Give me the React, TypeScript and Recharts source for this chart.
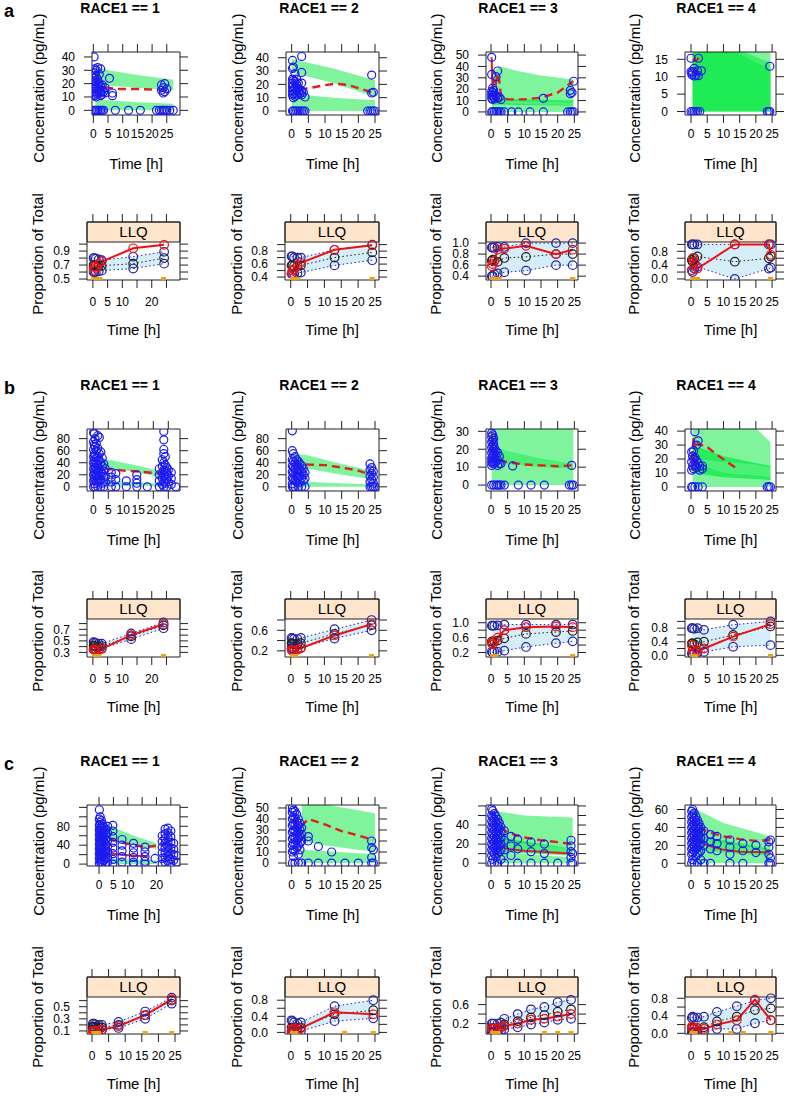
import React from "react";
import { ComposedChart, XAxis, YAxis, Scatter, Line, Area, ReferenceArea } from "recharts";

type Pt = [number, number];
type Bd = [number, number, number];
type Col = [number, number[]];

// ---------- concentration panels: observations [time, concentrations...] ----------
const a1Obs: Col[] = [
  [0.25, [40, 28, 24, 20, 16, 12, 0]], [0.5, [31, 26, 22, 18, 14, 11, 0]], [1, [30, 25, 21, 17, 13, 10, 0]],
  [1.5, [32, 23, 19, 15, 12, 0]], [2, [27, 20, 16, 13, 0]], [2.5, [31, 18, 14, 11, 0]], [3, [19, 15, 12, 0]],
  [3.5, [14, 0]], [4, [17, 13]], [5.5, [24]], [6.5, [13, 11]], [7.5, [0]], [12, [0]], [16, [0]],
  [21.5, [0]], [22.5, [0]], [23.2, [19, 15, 0]], [23.8, [17, 13, 0]], [24.3, [20, 14, 0]], [25, [16, 0]],
  [26, [0]], [27.2, [0]],
];
const a1Dash: Pt[] = [[0.5, 22], [1, 20], [2, 18], [3, 17.5], [5, 17], [8, 16], [15, 16], [22, 15.5], [24, 15], [25.5, 16]];
const a1Up: Bd[] = [[0.7, 20, 32.5], [5, 18.5, 30], [15, 17, 26.5], [27.2, 15, 23]];
const a1Low: Bd[] = [[0.7, 0, 8], [5, 0, 7.5], [15, 0, 6], [27.2, 0, 5]];

const a2Obs: Col[] = [
  [0.25, [38, 32, 24, 21, 18, 15, 12, 0]], [0.5, [33, 23, 19, 16, 13, 10, 0]], [1, [28, 22, 17, 14, 11, 0]],
  [1.5, [24, 20, 15, 12, 0]], [2, [21, 17, 14, 0]], [2.5, [16, 13, 0]], [3, [41, 29, 21, 15, 12, 0]],
  [3.5, [14, 0]], [4, [10.5, 0]], [22.8, [0]], [23.5, [0]], [24, [27, 13.5, 0]], [24.5, [14, 0]], [25, [0]],
];
const a2Dash: Pt[] = [[0.3, 24], [1, 19], [2, 16.5], [5, 17], [9, 19], [13, 20.5], [17, 19.5], [21, 16.5], [25, 13.3]];
const a2Up: Bd[] = [[0, 29, 39], [12.5, 21, 32], [25, 10.5, 23]];
const a2Low: Bd[] = [[0, 0, 13], [12.5, 0, 10], [25, 0, 8]];

const a3Obs: Col[] = [
  [0.2, [48, 33, 18, 15, 12, 0]], [0.5, [21, 17, 14, 11, 0]], [0.8, [19, 13]], [1, [16, 12, 0]],
  [1.5, [31, 14, 0]], [2, [36, 12, 0]], [2.5, [13, 0]], [3, [11, 0]], [4, [0]], [6.2, [0]], [8.2, [0]],
  [11.7, [0]], [15.7, [12, 0]], [23, [0]], [23.8, [19, 16, 0]], [24.3, [17, 0]], [24.8, [27, 0]],
];
const a3Dash: Pt[] = [[0.5, 22], [1, 30], [1.5, 26], [2, 34], [2.5, 27], [3, 14], [5, 11], [10, 11], [15, 12.5], [20, 17], [24.7, 27]];
const a3Solid: Pt[] = [[0.2, 48], [0.35, 30], [0.6, 15], [1, 12], [2, 11], [3, 10]];
const a3Up: Bd[] = [[0.3, 10, 28], [1, 10, 36], [2.7, 10, 40], [8, 9.5, 36], [15, 9, 32], [24.7, 8, 28.5]];
const a3Mid: Bd[] = [[0.3, 6, 14], [3, 6.5, 12], [10, 6, 11], [24.7, 5.5, 10]];
const a3Low: Bd[] = [[0.3, 0, 8], [10, 0, 7], [24.7, 0, 6]];

const a4Obs: Col[] = [
  [0, [15.3, 11.4, 0]], [0.3, [11, 10.5]], [0.5, [11.5, 0]], [1, [12.4, 10.2, 0]], [1.5, [10.4, 0]],
  [2, [11.7, 0]], [2.3, [15.3, 10.3]], [2.7, [0]], [3.2, [11.7]], [23.5, [0]], [24, [0]], [24.3, [13, 0]],
];
const a4Dash: Pt[] = [[0.5, 15], [1.5, 14.5], [2.5, 15.5], [3, 15]];
const a4Solid: Pt[] = [[0.3, 11], [1, 11], [1.5, 12.5], [1.7, 10.5], [2.5, 11]];
const a4BandA: Bd[] = [[0.5, 0, 18], [24.5, 0, 18]];
const a4BandB: Bd[] = [[0.5, 0, 18], [14, 0, 18], [24.5, 0, 14]];
const a4BandC: Bd[] = [[0.5, 0, 18], [12, 0, 18], [24.5, 0, 12]];

const b1Obs: Col[] = [
  [0.1, [90, 75, 62, 50, 40, 30, 20, 10, 0]], [0.3, [88, 70, 55, 45, 35, 25, 15, 5]],
  [0.6, [80, 66, 52, 42, 32, 22, 12, 0]], [1, [72, 60, 48, 38, 28, 18, 8]],
  [1.5, [85, 64, 50, 36, 26, 14, 0]], [2, [82, 55, 44, 30, 20, 10]], [2.5, [58, 40, 24, 12, 0]],
  [3, [48, 34, 22, 6]], [3.5, [38, 26, 16, 0]], [4, [30, 18, 8]], [6, [24, 16, 8, 0]],
  [7.5, [22, 12, 0]], [11, [10, 0]], [14.5, [20, 12, 6, 0]], [18, [0]], [22, [30, 20, 10, 0]],
  [23, [45, 34, 24, 14, 4]], [23.5, [92, 78, 62, 55, 40, 28, 18, 8, 0]], [24, [50, 36, 26, 16, 6]],
  [24.5, [32, 22, 12, 0]], [25, [28, 18, 8]], [26, [24, 14, 4]], [27.5, [0]],
];
const b1Dash: Pt[] = [[0.3, 33], [0.8, 37], [1.5, 36], [3, 31], [6, 29], [10, 27], [15, 25.5], [20, 23], [22.5, 21], [24.5, 24], [26, 26]];
const b1Solid: Pt[] = [[0.2, 12], [1, 14], [2, 13], [3, 12]];
const b1Up: Bd[] = [[2, 31, 46], [6, 30, 44], [14, 25, 36], [21, 17, 28], [24, 15, 25]];
const b1Low: Bd[] = [[4, 3, 10], [12, 2, 8], [20, 1, 6], [24, 0, 5]];

const b2Obs: Col[] = [
  [0.2, [93, 60, 45, 35, 25, 15, 5, 0]], [0.5, [55, 42, 32, 22, 12, 0]], [1, [50, 40, 30, 20, 10, 0]],
  [1.5, [45, 36, 27, 18, 8]], [2, [42, 33, 24, 15, 0]], [2.5, [38, 28, 18, 8]], [3, [35, 25, 15, 0]],
  [3.5, [30, 20, 10]], [4, [24, 14, 0]], [23.5, [38, 28, 18, 8, 0]], [24, [32, 22, 12, 0]],
  [24.5, [26, 16, 6, 0]], [25, [0]],
];
const b2Dash: Pt[] = [[0.5, 35], [2, 38], [5, 37], [10, 36], [15, 32], [20, 27], [24.5, 19]];
const b2Solid: Pt[] = [[0.3, 14], [0.8, 20], [1.5, 24], [2.5, 20], [3.5, 17]];
const b2Up: Bd[] = [[1, 32, 55], [5, 30, 52], [15, 20, 38], [24.5, 12, 26]];
const b2Low: Bd[] = [[1, 0, 10], [10, 0, 7], [24.5, 0, 4]];

const b3Obs: Col[] = [
  [0.2, [29, 27, 24, 21, 18, 15, 13, 11, 0]], [0.5, [28, 25, 22, 19, 16, 14, 12]], [0.8, [26, 23, 20, 17, 13, 0]],
  [1, [21, 18, 15, 12]], [1.5, [19, 16, 13, 0]], [2, [18, 14, 11, 0]], [2.5, [16, 12, 0]], [3, [12, 0]],
  [4, [0]], [6.5, [10.7]], [8.2, [0]], [12, [0]], [16, [0]], [23.5, [0]], [24.2, [11, 0]], [24.7, [0]],
];
const b3Dash: Pt[] = [[0.5, 20], [1, 17], [2, 14.5], [3, 13.5], [6, 12.5], [10, 11.5], [15, 11], [20, 10.5], [24.3, 11]];
const b3Solid: Pt[] = [[0.2, 29], [0.4, 24], [0.6, 18], [0.9, 14], [1.3, 12], [2, 12]];
const b3Up: Bd[] = [[0.2, 21, 33], [5, 19, 33], [15, 15, 33], [24.7, 12, 33]];
const b3Mid: Bd[] = [[0.2, 12.5, 21.5], [5, 11.5, 19], [15, 10, 15], [24.7, 8.8, 12]];
const b3Low: Bd[] = [[0.2, 0, 12.5], [5, 0, 11.5], [15, 0, 10], [24.7, 0, 8.8]];

const b4Obs: Col[] = [
  [0.2, [25, 18, 12, 0]], [0.5, [22, 15, 0]], [0.8, [26, 20, 13]], [1.2, [39.5, 21, 16, 0]],
  [1.7, [30, 19, 14]], [2.2, [33, 17, 0]], [2.7, [15, 12]], [3.5, [13, 15, 0]],
  [23.5, [0]], [24, [0]], [24.5, [0]],
];
const b4Dash: Pt[] = [[0.3, 20], [0.8, 35], [1.2, 28], [1.7, 33], [2.5, 30], [4.3, 29.8], [8, 23], [13.6, 14]];
const b4Solid: Pt[] = [[0.2, 12], [0.5, 20], [0.9, 23], [1.3, 16], [1.8, 19], [2.5, 15], [3.2, 14]];
const b4Up: Bd[] = [[0.5, 20, 42], [10, 18, 42], [20, 16, 42], [24.5, 14, 32]];
const b4Mid: Bd[] = [[0.5, 10, 30], [10, 7, 22], [24.5, 5, 15]];
const b4Low: Bd[] = [[0.5, 0, 18], [10, 0, 10], [24.5, 0, 7]];

const c1Obs: Col[] = [
  [0.1, [115, 95, 82, 72, 62, 52, 42, 32, 22, 12, 2]], [0.4, [100, 88, 76, 66, 56, 46, 36, 26, 16, 6]],
  [0.8, [92, 80, 70, 60, 50, 40, 30, 20, 10, 0]], [1.2, [85, 75, 64, 54, 44, 34, 24, 14, 4]],
  [1.7, [78, 68, 58, 48, 38, 28, 18, 8]], [2.3, [72, 62, 52, 42, 32, 22, 12, 0]], [3, [80, 65, 50, 38, 26, 14, 4]],
  [4.8, [82, 70, 58, 46, 34, 22, 10, 0]], [8, [52, 40, 28, 16, 4]], [12, [44, 34, 24, 14, 4, 0]],
  [16, [36, 26, 16, 6, 0]], [19.5, [12]], [22, [60, 48, 36, 24, 12, 0]], [23, [74, 64, 54, 44, 34, 24, 14, 4]],
  [24, [76, 66, 56, 46, 36, 26, 16, 6]], [25, [70, 58, 46, 34, 22, 10, 0]], [26, [44, 32, 20, 8]], [27, [18, 4]],
];
const c1Dash: Pt[] = [[0.3, 68], [1, 60], [2.5, 56], [6, 48], [10, 43], [16, 36], [20, 39], [24, 46], [25.5, 32]];
const c1Solid: Pt[] = [[0.3, 22], [1, 26], [3, 23], [8, 20], [12, 18], [17, 16]];
const c1Up: Bd[] = [[0.5, 50, 90], [5, 48, 78], [12, 40, 60], [20, 32, 44]];
const c1Low: Bd[] = [[4, 0, 12], [12, 0, 10], [20, 0, 8]];

const c2Obs: Col[] = [
  [0.2, [50, 46, 40, 34, 28, 22, 16, 10, 0]], [0.5, [48, 42, 36, 30, 24, 18, 12, 6]],
  [1, [47, 41, 35, 29, 23, 17, 11, 0]], [1.5, [44, 38, 32, 26, 20, 14]], [2, [40, 34, 28, 22, 16, 8, 0]],
  [2.5, [36, 30, 24, 18, 12]], [3, [32, 26, 20, 0]], [5, [24, 20, 0]], [8, [15, 0]], [12, [10, 0]],
  [16, [0]], [20, [0]], [24, [20, 14, 5, 0]], [24.5, [12, 0]],
];
const c2Dash: Pt[] = [[0.5, 44], [1.5, 40], [3, 34], [5, 40], [10, 35], [15, 29], [20, 25], [24.5, 21]];
const c2Solid: Pt[] = [[0.3, 30], [1, 38], [1.5, 30], [2.5, 26], [4, 22]];
const c2Up: Bd[] = [[3, 20, 53], [10, 16, 53], [20, 12, 48], [25, 10, 45]];
const c2Low: Bd[] = [[3, 0, 12], [25, 0, 8]];

const c3Obs: Col[] = [
  [0.2, [57, 50, 44, 38, 32, 26, 20, 14, 8, 0]], [0.5, [55, 48, 42, 36, 30, 24, 18, 12, 4]],
  [1, [52, 46, 40, 34, 28, 22, 16, 10, 0]], [1.5, [49, 43, 37, 31, 25, 19, 13, 6]],
  [2, [46, 40, 34, 28, 22, 16, 10, 0]], [2.5, [42, 36, 30, 24, 18, 12]], [3, [38, 32, 26, 20, 14, 4]],
  [4, [34, 24, 14, 0]], [6, [28, 18, 8]], [8, [25, 15, 0]], [12, [22, 12, 0]], [16, [20, 10, 0]],
  [20, [0]], [24, [24, 18, 12, 6, 0]], [24.5, [10, 0]],
];
const c3Dash: Pt[] = [[0.5, 48], [1, 45], [2, 40], [5, 32], [10, 27], [15, 24], [20, 22], [24, 20]];
const c3Solid: Pt[] = [[0.3, 25], [1, 20], [2, 18], [5, 15], [10, 13], [24, 10]];
const c3Up: Bd[] = [[0.5, 25, 55], [10, 20, 50], [24.5, 15, 48]];
const c3Mid: Bd[] = [[0.5, 12, 28], [24.5, 8, 15]];
const c3Low: Bd[] = [[0.5, 0, 12], [24.5, 0, 6]];

const c4Obs: Col[] = [
  [0.2, [58, 52, 46, 40, 34, 28, 22, 16, 10, 0]], [0.5, [60, 54, 48, 42, 36, 30, 24, 18, 12, 4]],
  [1, [56, 50, 44, 38, 32, 26, 20, 14, 0]], [1.5, [52, 46, 40, 34, 28, 22, 16, 8]],
  [2, [48, 42, 36, 30, 24, 18, 10, 0]], [2.5, [44, 38, 32, 26, 20, 12]], [3, [40, 34, 28, 22, 14, 4]],
  [4, [36, 28, 20, 0]], [6, [32, 24, 16, 0]], [8, [30, 22, 14]], [12, [26, 18, 10, 0]], [16, [22, 14, 0]],
  [20, [20, 12]], [24, [24, 18, 10, 0]], [24.5, [26, 6, 0]],
];
const c4Dash: Pt[] = [[0.5, 52], [1, 46], [2, 42], [5, 35], [10, 30], [15, 27], [20, 25], [24.5, 26]];
const c4Solid: Pt[] = [[0.5, 32], [1, 28], [2, 25], [5, 20], [10, 15], [15, 13], [24.5, 12]];
const c4Up: Bd[] = [[0.5, 30, 62], [10, 22, 45], [24.5, 15, 30]];
const c4Mid: Bd[] = [[0.5, 14, 32], [24.5, 8, 16]];
const c4Low: Bd[] = [[0.5, 0, 14], [24.5, 0, 8]];

// ---------- proportion (LLQ) panels ----------
const a1Bins = [0.25, 0.5, 1, 2, 3, 13.7, 24.2];
const a1Hi = [0.8, 0.8, 0.79, 0.78, 0.77, 0.82, 0.89];
const a1Med = [0.7, 0.7, 0.69, 0.69, 0.69, 0.72, 0.8];
const a1Lo = [0.6, 0.6, 0.6, 0.61, 0.62, 0.65, 0.72];
const a1Prop = [0.63, 0.68, 0.66, 0.72, 0.75, 0.94, 0.99];
const a1Blq = [0.3, 0.7, 1.2, 1.8, 2.4, 24];

const a2Bins = [0.25, 0.5, 1, 2, 3, 13, 24.2];
const a2Hi = [0.72, 0.72, 0.7, 0.7, 0.7, 0.82, 0.9];
const a2Med = [0.58, 0.58, 0.57, 0.57, 0.58, 0.7, 0.78];
const a2Lo = [0.45, 0.45, 0.45, 0.46, 0.47, 0.58, 0.66];
const a2Prop = [0.45, 0.5, 0.52, 0.58, 0.62, 0.82, 0.89];
const a2Blq = [0.5, 1.2, 2, 24.2];

const a3Bins = [0.25, 0.5, 1, 2, 4, 10.5, 19.5, 24.5];
const a3Hi = [0.92, 0.92, 0.92, 0.93, 0.93, 1.0, 1.0, 1.0];
const a3Med = [0.68, 0.7, 0.68, 0.66, 0.73, 0.75, 0.8, 0.8];
const a3Lo = [0.4, 0.4, 0.43, 0.45, 0.47, 0.5, 0.6, 0.6];
const a3Prop = [0.58, 0.62, 0.68, 0.88, 0.9, 0.95, 0.8, 0.88];
const a3Blq = [0.3, 0.8, 1.3, 1.8, 2.5, 24.5];

const a4Bins = [0.25, 0.5, 1, 2, 13.5, 24.0, 24.6];
const a4Hi = [1, 1, 1, 1, 1, 1, 1];
const a4Med = [0.55, 0.5, 0.6, 0.65, 0.5, 0.6, 0.65];
const a4Lo = [0.25, 0.2, 0.3, 0.35, 0.0, 0.3, 0.33];
const a4Prop = [0.25, 0.6, 0.5, 0.3, 1.0, 1.0, 0.7];
const a4Blq = [0.5, 1, 1.5, 2, 24.5];

const b1Bins = [0.25, 0.5, 1, 2, 3, 13, 24];
const b1Hi = [0.48, 0.47, 0.46, 0.45, 0.45, 0.63, 0.82];
const b1Med = [0.42, 0.41, 0.4, 0.4, 0.41, 0.58, 0.77];
const b1Lo = [0.36, 0.36, 0.35, 0.35, 0.37, 0.53, 0.72];
const b1Prop = [0.35, 0.34, 0.33, 0.34, 0.36, 0.6, 0.79];
const b1Blq = [0.5, 1.2, 2, 24];

const b2Bins = [0.25, 0.5, 1, 2, 3, 13, 24];
const b2Hi = [0.45, 0.44, 0.43, 0.43, 0.45, 0.62, 0.8];
const b2Med = [0.35, 0.34, 0.33, 0.33, 0.35, 0.53, 0.7];
const b2Lo = [0.25, 0.24, 0.24, 0.24, 0.26, 0.44, 0.6];
const b2Prop = [0.22, 0.2, 0.2, 0.22, 0.25, 0.5, 0.72];
const b2Blq = [0.5, 1.5, 24];

const b3Bins = [0.25, 0.5, 1, 2, 4, 10.5, 19.5, 24.5];
const b3Hi = [0.92, 0.92, 0.92, 0.93, 0.95, 0.95, 0.95, 0.95];
const b3Med = [0.5, 0.48, 0.5, 0.52, 0.58, 0.7, 0.75, 0.78];
const b3Lo = [0.22, 0.2, 0.22, 0.22, 0.25, 0.35, 0.45, 0.5];
const b3Prop = [0.45, 0.42, 0.5, 0.6, 0.8, 0.88, 0.9, 0.88];
const b3Blq = [0.5, 1, 1.5, 24.5];

const b4Bins = [0.25, 0.5, 1, 2, 4, 13, 24.5];
const b4Hi = [0.8, 0.8, 0.78, 0.8, 0.75, 0.9, 1.0];
const b4Med = [0.35, 0.35, 0.33, 0.38, 0.4, 0.6, 0.85];
const b4Lo = [0.05, 0.05, 0.05, 0.08, 0.1, 0.25, 0.3];
const b4Prop = [0.3, 0.15, 0.1, 0.12, 0.2, 0.55, 0.92];
const b4Blq = [0.5, 1.5, 24.5];

const c1Bins = [0.25, 0.5, 1, 2, 3, 8, 16, 24];
const c1Hi = [0.22, 0.22, 0.21, 0.2, 0.2, 0.25, 0.42, 0.65];
const c1Med = [0.17, 0.17, 0.16, 0.16, 0.16, 0.2, 0.36, 0.6];
const c1Lo = [0.12, 0.12, 0.12, 0.12, 0.12, 0.15, 0.3, 0.55];
const c1Prop = [0.1, 0.1, 0.1, 0.11, 0.12, 0.18, 0.36, 0.62];
const c1Blq = [0.5, 1, 2, 16, 24];

const c2Bins = [0.25, 0.5, 1, 2, 3, 13, 24.5];
const c2Hi = [0.3, 0.28, 0.25, 0.22, 0.25, 0.65, 0.8];
const c2Med = [0.12, 0.1, 0.1, 0.1, 0.12, 0.45, 0.55];
const c2Lo = [0.02, 0.02, 0.02, 0.02, 0.03, 0.28, 0.35];
const c2Prop = [0.05, 0.08, 0.1, 0.05, 0.1, 0.5, 0.45];
const c2Blq = [0.5, 1, 1.5, 16, 24.5];

const c3Bins = [0.25, 0.5, 1, 2, 3, 4, 8, 12, 16, 20, 24];
const c3Hi = [0.2, 0.2, 0.2, 0.2, 0.22, 0.3, 0.4, 0.5, 0.55, 0.65, 0.7];
const c3Med = [0.1, 0.1, 0.1, 0.1, 0.12, 0.18, 0.25, 0.33, 0.38, 0.45, 0.5];
const c3Lo = [0.02, 0.02, 0.02, 0.03, 0.05, 0.08, 0.12, 0.18, 0.22, 0.28, 0.3];
const c3Prop = [0.1, 0.08, 0.1, 0.1, 0.12, 0.15, 0.2, 0.28, 0.3, 0.35, 0.4];
const c3Blq = [0.5, 1, 1.5, 2, 16, 20, 24];

const c4Bins = [0.25, 0.5, 1, 2, 4, 8, 14.1, 19.7, 24.6];
const c4Hi = [0.35, 0.38, 0.36, 0.36, 0.38, 0.49, 0.62, 0.75, 0.8];
const c4Med = [0.12, 0.13, 0.12, 0.12, 0.14, 0.27, 0.38, 0.53, 0.57];
const c4Lo = [0.02, 0.02, 0.02, 0.02, 0.03, 0.1, 0.1, 0.23, 0.3];
const c4Prop = [0.15, 0.12, 0.1, 0.12, 0.1, 0.2, 0.3, 0.77, 0.3];
const c4Blq = [0.3, 0.8, 1.3, 12.3, 16.1, 24.6];

// ---------- axis ticks ----------
const xTicks = [0, 5, 10, 15, 20, 25];
const xAll = [0, 5, 10, 15, 20, 25];
const xSome = [0, 5, 10, 20];
const titles = ["RACE1 == 1", "RACE1 == 2", "RACE1 == 3", "RACE1 == 4"];
const letters = ["a", "b", "c"];

// ---------- layout ----------
const FONT = '"Liberation Sans", Arial, Helvetica, sans-serif';
const AX = "#222";
const GREEN = "#00ea3c";
const OBS = "#1a1af0";
const RED = "#e0201c";
const NAVY = "#2424a8";
const OFF = [0, 377, 753];
const RIGHT = [180, 379, 578, 776];
const CONC_BOX = [[52, 115], [429, 491], [805, 866]];
const PROP_BOX = [[222, 242, 280], [599, 619, 657], [977, 997, 1034]];

type Band = { d: Bd[]; o: number };
type ConcCfg = {
  row: number; col: number; left: number; xDom: [number, number]; yDom: [number, number];
  yTicks: number[]; yLab: number[]; xLab: number[]; obs: Col[]; dash?: Pt[]; solid?: Pt[]; bands: Band[];
};
type PropCfg = {
  row: number; col: number; left: number; xDom: [number, number]; yDom: [number, number];
  yTicks: number[]; yLab: number[]; xLab: number[];
  bins: number[]; hi: number[]; med: number[]; lo: number[]; ob: number[]; blq: number[];
};

const PI = 0.5;
const MID = 0.7;

const concPanels: ConcCfg[] = [
  { row: 0, col: 0, left: 92, xDom: [-0.45, 29.5], yDom: [-3.5, 43.7], yTicks: [0, 10, 20, 30, 40], yLab: [0, 10, 20, 30, 40], xLab: xAll, obs: a1Obs, dash: a1Dash, bands: [{ d: a1Up, o: PI }, { d: a1Low, o: PI }] },
  { row: 0, col: 1, left: 286, xDom: [-1.7, 26.2], yDom: [-3, 44.3], yTicks: [0, 10, 20, 30, 40], yLab: [0, 10, 20, 30, 40], xLab: xAll, obs: a2Obs, dash: a2Dash, bands: [{ d: a2Up, o: PI }, { d: a2Low, o: PI }] },
  { row: 0, col: 2, left: 486, xDom: [-1.5, 26.1], yDom: [-2.7, 52.7], yTicks: [0, 10, 20, 30, 40, 50], yLab: [0, 10, 20, 30, 40, 50], xLab: xAll, obs: a3Obs, dash: a3Dash, solid: a3Solid, bands: [{ d: a3Up, o: PI }, { d: a3Mid, o: MID }, { d: a3Low, o: PI }] },
  { row: 0, col: 3, left: 685, xDom: [-1.85, 26.2], yDom: [-1, 17.1], yTicks: [0, 5, 10, 15], yLab: [0, 5, 10, 15], xLab: xAll, obs: a4Obs, dash: a4Dash, solid: a4Solid, bands: [{ d: a4BandA, o: PI }, { d: a4BandB, o: PI }, { d: a4BandC, o: PI }] },
  { row: 1, col: 0, left: 87, xDom: [-2.1, 28.9], yDom: [-6.9, 96], yTicks: [0, 20, 40, 60, 80], yLab: [0, 20, 40, 60, 80], xLab: xAll, obs: b1Obs, dash: b1Dash, solid: b1Solid, bands: [{ d: b1Up, o: PI }, { d: b1Low, o: PI }] },
  { row: 1, col: 1, left: 286, xDom: [-1.7, 26.2], yDom: [-6.9, 96], yTicks: [0, 20, 40, 60, 80], yLab: [0, 20, 40, 60, 80], xLab: xAll, obs: b2Obs, dash: b2Dash, solid: b2Solid, bands: [{ d: b2Up, o: PI }, { d: b2Low, o: PI }] },
  { row: 1, col: 2, left: 486, xDom: [-1.5, 26.1], yDom: [-3.3, 31.3], yTicks: [0, 10, 20, 30], yLab: [0, 10, 20, 30], xLab: xAll, obs: b3Obs, dash: b3Dash, solid: b3Solid, bands: [{ d: b3Up, o: PI }, { d: b3Mid, o: MID }, { d: b3Low, o: PI }] },
  { row: 1, col: 3, left: 685, xDom: [-1.85, 26.2], yDom: [-2.9, 41.5], yTicks: [0, 10, 20, 30, 40], yLab: [0, 10, 20, 30, 40], xLab: xAll, obs: b4Obs, dash: b4Dash, solid: b4Solid, bands: [{ d: b4Up, o: PI }, { d: b4Mid, o: MID }, { d: b4Low, o: PI }] },
  { row: 2, col: 0, left: 87, xDom: [-4.2, 28.2], yDom: [-4, 125], yTicks: [0, 20, 40, 60, 80, 100, 120], yLab: [0, 40, 80], xLab: xSome, obs: c1Obs, dash: c1Dash, solid: c1Solid, bands: [{ d: c1Up, o: PI }, { d: c1Low, o: PI }] },
  { row: 2, col: 1, left: 286, xDom: [-1.7, 26.2], yDom: [-2.7, 52.7], yTicks: [0, 10, 20, 30, 40, 50], yLab: [0, 10, 20, 30, 40, 50], xLab: xAll, obs: c2Obs, dash: c2Dash, solid: c2Solid, bands: [{ d: c2Up, o: PI }, { d: c2Low, o: PI }] },
  { row: 2, col: 2, left: 486, xDom: [-1.5, 26.1], yDom: [-3, 61], yTicks: [0, 10, 20, 30, 40, 50, 60], yLab: [0, 20, 40], xLab: xAll, obs: c3Obs, dash: c3Dash, solid: c3Solid, bands: [{ d: c3Up, o: PI }, { d: c3Mid, o: MID }, { d: c3Low, o: PI }] },
  { row: 2, col: 3, left: 685, xDom: [-1.85, 26.2], yDom: [-3, 65], yTicks: [0, 10, 20, 30, 40, 50, 60], yLab: [0, 20, 40, 60], xLab: xAll, obs: c4Obs, dash: c4Dash, solid: c4Solid, bands: [{ d: c4Up, o: PI }, { d: c4Mid, o: MID }, { d: c4Low, o: PI }] },
];

const propPanels: PropCfg[] = [
  { row: 0, col: 0, left: 87, xDom: [-2.0, 29.6], yDom: [0.486, 1.03], yTicks: [0.5, 0.6, 0.7, 0.8, 0.9, 1.0], yLab: [0.5, 0.7, 0.9], xLab: xSome, bins: a1Bins, hi: a1Hi, med: a1Med, lo: a1Lo, ob: a1Prop, blq: a1Blq },
  { row: 0, col: 1, left: 285, xDom: [-1.7, 26.2], yDom: [0.355, 0.94], yTicks: [0.4, 0.5, 0.6, 0.7, 0.8, 0.9], yLab: [0.4, 0.6, 0.8], xLab: xAll, bins: a2Bins, hi: a2Hi, med: a2Med, lo: a2Lo, ob: a2Prop, blq: a2Blq },
  { row: 0, col: 2, left: 486, xDom: [-1.5, 26.1], yDom: [0.33, 1.02], yTicks: [0.4, 0.6, 0.8, 1.0], yLab: [0.4, 0.6, 0.8, 1.0], xLab: xAll, bins: a3Bins, hi: a3Hi, med: a3Med, lo: a3Lo, ob: a3Prop, blq: a3Blq },
  { row: 0, col: 3, left: 685, xDom: [-1.85, 26.2], yDom: [-0.03, 1.07], yTicks: [0, 0.2, 0.4, 0.6, 0.8, 1.0], yLab: [0, 0.4, 0.8], xLab: xAll, bins: a4Bins, hi: a4Hi, med: a4Med, lo: a4Lo, ob: a4Prop, blq: a4Blq },
  { row: 1, col: 0, left: 87, xDom: [-2.0, 29.6], yDom: [0.22, 0.88], yTicks: [0.3, 0.4, 0.5, 0.6, 0.7, 0.8], yLab: [0.3, 0.5, 0.7], xLab: xSome, bins: b1Bins, hi: b1Hi, med: b1Med, lo: b1Lo, ob: b1Prop, blq: b1Blq },
  { row: 1, col: 1, left: 285, xDom: [-1.7, 26.2], yDom: [0.08, 0.82], yTicks: [0.2, 0.4, 0.6, 0.8], yLab: [0.2, 0.6], xLab: xAll, bins: b2Bins, hi: b2Hi, med: b2Med, lo: b2Lo, ob: b2Prop, blq: b2Blq },
  { row: 1, col: 2, left: 486, xDom: [-1.5, 26.1], yDom: [0.08, 1.1], yTicks: [0.2, 0.4, 0.6, 0.8, 1.0], yLab: [0.2, 0.6, 1.0], xLab: xAll, bins: b3Bins, hi: b3Hi, med: b3Med, lo: b3Lo, ob: b3Prop, blq: b3Blq },
  { row: 1, col: 3, left: 685, xDom: [-1.85, 26.2], yDom: [-0.05, 1.07], yTicks: [0, 0.2, 0.4, 0.6, 0.8, 1.0], yLab: [0, 0.4, 0.8], xLab: xAll, bins: b4Bins, hi: b4Hi, med: b4Med, lo: b4Lo, ob: b4Prop, blq: b4Blq },
  { row: 2, col: 0, left: 87, xDom: [-1.5, 26.5], yDom: [0.05, 0.66], yTicks: [0.1, 0.2, 0.3, 0.4, 0.5, 0.6], yLab: [0.1, 0.3, 0.5], xLab: xAll, bins: c1Bins, hi: c1Hi, med: c1Med, lo: c1Lo, ob: c1Prop, blq: c1Blq },
  { row: 2, col: 1, left: 285, xDom: [-1.7, 26.2], yDom: [-0.04, 0.88], yTicks: [0, 0.2, 0.4, 0.6, 0.8], yLab: [0, 0.4, 0.8], xLab: xAll, bins: c2Bins, hi: c2Hi, med: c2Med, lo: c2Lo, ob: c2Prop, blq: c2Blq },
  { row: 2, col: 2, left: 486, xDom: [-1.5, 26.1], yDom: [-0.02, 0.76], yTicks: [0.2, 0.4, 0.6], yLab: [0.2, 0.6], xLab: xAll, bins: c3Bins, hi: c3Hi, med: c3Med, lo: c3Lo, ob: c3Prop, blq: c3Blq },
  { row: 2, col: 3, left: 685, xDom: [-1.85, 26.2], yDom: [-0.016, 0.83], yTicks: [0, 0.2, 0.4, 0.6, 0.8], yLab: [0, 0.4, 0.8], xLab: xAll, bins: c4Bins, hi: c4Hi, med: c4Med, lo: c4Lo, ob: c4Prop, blq: c4Blq },
];

const near = (arr: number[], v: number) => arr.some((x) => Math.abs(x - v) < 1e-6);
const tickStyle = { fontSize: 12, fill: "#000" };

const openCircle = (color: string, r: number) => (props: any) =>
  <circle cx={props.cx} cy={props.cy} r={r} fill="none" stroke={color} strokeWidth={1.2} />;

function ConcPlot({ p }: { p: ConcCfg }) {
  const [top, bot] = CONC_BOX[p.row];
  const right = RIGHT[p.col];
  const w = right - p.left;
  const h = bot - top;
  const L = 50, T = 10, R = 10, B = 30;
  const pts = p.obs.flatMap(([t, cs]) => cs.map((v) => ({ t, v })));
  const toLine = (a: Pt[]) => a.map(([t, v]) => ({ t, v }));
  return (
    <div style={{ position: "absolute", left: p.left - L, top: top - T }}>
      <ComposedChart width={w + L + R} height={h + T + B} margin={{ top: 0, right: 0, bottom: 0, left: 0 }}>
        <XAxis dataKey="t" type="number" domain={p.xDom} allowDataOverflow ticks={xTicks} interval={0}
          tickFormatter={(v) => (near(p.xLab, v) ? String(v) : "")} tickSize={8} tickMargin={6} height={B} stroke={AX} tick={tickStyle} />
        <XAxis xAxisId="top" orientation="top" dataKey="t" type="number" domain={p.xDom} allowDataOverflow ticks={xTicks}
          interval={0} tickFormatter={() => ""} tickSize={8} height={T} stroke={AX} />
        <YAxis type="number" domain={p.yDom} allowDataOverflow ticks={p.yTicks} interval={0}
          tickFormatter={(v) => (near(p.yLab, v) ? String(v) : "")} tickSize={8} tickMargin={9} width={L} stroke={AX} tick={tickStyle} />
        <YAxis yAxisId="right" orientation="right" type="number" domain={p.yDom} allowDataOverflow ticks={p.yTicks}
          interval={0} tickFormatter={() => ""} tickSize={8} width={R} stroke={AX} />
        {p.bands.map((b, i) => (
          <Area key={i} data={b.d.map(([t, lo, hi]) => ({ t, r: [lo, hi] }))} dataKey="r" type="linear" stroke="none"
            fill={GREEN} fillOpacity={b.o} dot={false} activeDot={false} isAnimationActive={false} />
        ))}
        <Scatter data={pts} dataKey="v" shape={openCircle(OBS, 4)} isAnimationActive={false} />
        {p.solid && (
          <Line data={toLine(p.solid)} dataKey="v" type="linear" stroke={RED} strokeWidth={2} dot={false} activeDot={false} isAnimationActive={false} />
        )}
        {p.dash && (
          <Line data={toLine(p.dash)} dataKey="v" type="linear" stroke={RED} strokeWidth={2.4} strokeDasharray="8 5" dot={false} activeDot={false} isAnimationActive={false} />
        )}
      </ComposedChart>
    </div>
  );
}

function PropPlot({ p }: { p: PropCfg }) {
  const [sTop, pTop, pBot] = PROP_BOX[p.row];
  const right = RIGHT[p.col];
  const w = right - p.left;
  const h = pBot - sTop;
  const [d0, d1] = p.yDom;
  const d2 = d1 + ((d1 - d0) * (pTop - sTop)) / (pBot - pTop);
  const L = 50, T = 10, R = 10, B = 30;
  const rows = p.bins.map((t, i) => ({ t, hi: p.hi[i], med: p.med[i], lo: p.lo[i], ob: p.ob[i], band: [p.lo[i], p.hi[i]] }));
  const blq = p.blq.map((t) => ({ t, v: d0 }));
  const ring = (c: string) => ({ r: 4.3, stroke: c, fill: "none", strokeWidth: 1.2, strokeDasharray: "none" });
  return (
    <div style={{ position: "absolute", left: p.left - L, top: sTop - T }}>
      <ComposedChart data={rows} width={w + L + R} height={h + T + B} margin={{ top: 0, right: 0, bottom: 0, left: 0 }}>
        <XAxis dataKey="t" type="number" domain={p.xDom} allowDataOverflow ticks={xTicks} interval={0}
          tickFormatter={(v) => (near(p.xLab, v) ? String(v) : "")} tickSize={8} tickMargin={9} height={B} stroke={AX} tick={tickStyle} />
        <XAxis xAxisId="top" orientation="top" dataKey="t" type="number" domain={p.xDom} allowDataOverflow ticks={xTicks}
          interval={0} tickFormatter={() => ""} tickSize={8} height={T} stroke={AX} />
        <YAxis type="number" domain={[d0, d2]} allowDataOverflow ticks={p.yTicks} interval={0}
          tickFormatter={(v) => (near(p.yLab, v) ? v.toFixed(1) : "")} tickSize={8} tickMargin={9} width={L} stroke={AX} tick={tickStyle} />
        <YAxis yAxisId="right" orientation="right" type="number" domain={[d0, d2]} allowDataOverflow ticks={p.yTicks}
          interval={0} tickFormatter={() => ""} tickSize={8} width={R} stroke={AX} />
        <Area dataKey="band" type="linear" stroke="none" fill="#d6eef9" fillOpacity={1} dot={false} activeDot={false} isAnimationActive={false} />
        <Line dataKey="lo" type="linear" stroke={NAVY} strokeWidth={1} strokeDasharray="1.5 2.5" dot={ring(NAVY)} activeDot={false} isAnimationActive={false} />
        <Line dataKey="hi" type="linear" stroke={NAVY} strokeWidth={1} strokeDasharray="1.5 2.5" dot={ring(NAVY)} activeDot={false} isAnimationActive={false} />
        <Line dataKey="med" type="linear" stroke="#222" strokeWidth={1} strokeDasharray="1.5 2.5" dot={ring("#222")} activeDot={false} isAnimationActive={false} />
        <Line dataKey="ob" type="linear" stroke="#f01010" strokeWidth={2} dot={ring("#f01010")} activeDot={false} isAnimationActive={false} />
        <Scatter data={blq} dataKey="v" isAnimationActive={false}
          shape={(s: any) => <rect x={s.cx - 2.5} y={s.cy - 3} width={5} height={5} fill="#e8a317" />} />
        <ReferenceArea y1={d1} y2={d2} fill="#ffe5cc" fillOpacity={1} stroke={AX} strokeWidth={1}
          label={{ value: "LLQ", position: "center", fontSize: 15, fill: "#000" }} />
      </ComposedChart>
    </div>
  );
}

const abs = (x: number, y: number, extra: React.CSSProperties = {}): React.CSSProperties => ({
  position: "absolute", left: x, top: y, whiteSpace: "nowrap", lineHeight: 1, ...extra,
});

export default function App() {
  const texts: React.ReactNode[] = [];
  [0, 1, 2].forEach((row) => {
    texts.push(
      <div key={`L${row}`} style={abs(4, OFF[row] + 2, { fontSize: 18, fontWeight: "bold" })}>{letters[row]}</div>
    );
    [0, 1, 2, 3].forEach((col) => {
      const right = RIGHT[col];
      const cp = concPanels[row * 4 + col];
      const pp = propPanels[row * 4 + col];
      const rot = { fontSize: 15, transform: "translate(-50%, -50%) rotate(-90deg)" };
      const mid = { fontSize: 15, transform: "translate(-50%, -50%)" };
      texts.push(
        <div key={`t${row}${col}`} style={abs(right - 60, OFF[row] + 1, { fontSize: 14, fontWeight: "bold", transform: "translateX(-50%)" })}>
          {titles[col]}
        </div>,
        <div key={`yc${row}${col}`} style={abs(right - 142, OFF[row] + 88, rot)}>Concentration (pg/mL)</div>,
        <div key={`xc${row}${col}`} style={abs((cp.left + right) / 2, CONC_BOX[row][1] + 48, mid)}>Time [h]</div>,
        <div key={`yp${row}${col}`} style={abs(right - 143, OFF[row] + 254, rot)}>Proportion of Total</div>,
        <div key={`xp${row}${col}`} style={abs((pp.left + right) / 2, PROP_BOX[row][2] + 49, mid)}>Time [h]</div>
      );
    });
  });
  return (
    <div style={{ position: "absolute", left: 0, top: 0, width: 787, height: 1096, background: "#fff", fontFamily: FONT, color: "#000" }}>
      {concPanels.map((p, i) => <ConcPlot key={`c${i}`} p={p} />)}
      {propPanels.map((p, i) => <PropPlot key={`p${i}`} p={p} />)}
      {texts}
    </div>
  );
}
